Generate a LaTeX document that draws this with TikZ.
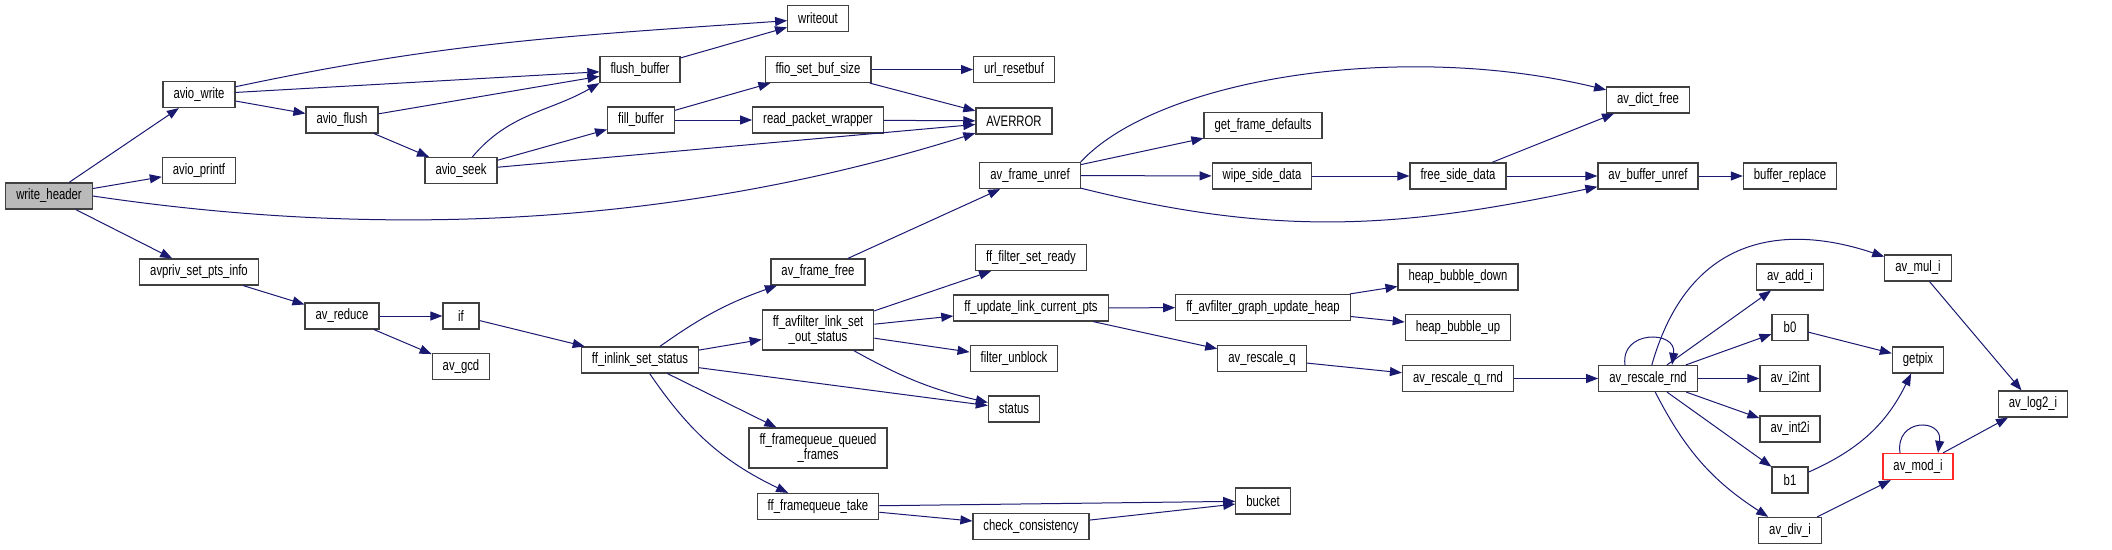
\documentclass[tikz,border=0pt]{standalone}
\usepackage{fontspec}
\setmainfont{Liberation Sans}[FakeStretch=0.75]
\usetikzlibrary{arrows.meta}
\definecolor{edgeblue}{HTML}{191970}
\definecolor{boxgray}{HTML}{404040}
\tikzset{fn/.style={draw=boxgray,line width=1.2pt,rectangle,minimum height=26pt,minimum width=36pt,inner xsep=10.5pt,inner ysep=2pt,font=\fontsize{15.1}{14.5}\selectfont,align=center},
 twoline/.style={fn,minimum height=40pt},
 root/.style={fn,fill=black!27},
 flag/.style={fn,draw=red!85},
 call/.style={draw=edgeblue,line width=1pt,-{Triangle[length=12pt,width=9pt]}}}

\begin{document}
\begin{tikzpicture}[x=1pt,y=1pt]
\useasboundingbox (0,0) rectangle (2112,-549);
\node[root](wh) at(49,-196){write\_header};
\node[fn](aw) at(199,-94.5){avio\_write};
\node[fn](ap) at(199,-170.5){avio\_printf};
\node[fn](psi) at(199,-272){avpriv\_set\_pts\_info};
\node[fn](af) at(342,-120){avio\_flush};
\node[fn](as) at(461,-170.5){avio\_seek};
\node[fn](ared) at(342,-316){av\_reduce};
\node[fn](if) at(461,-316){if};
\node[fn](agcd) at(461,-366.5){av\_gcd};
\node[fn](wo) at(818,-18.5){writeout};
\node[fn](fb) at(640,-69.5){flush\_buffer};
\node[fn](fsb) at(818,-69.5){ffio\_set\_buf\_size};
\node[fn](urb) at(1014,-69.5){url\_resetbuf};
\node[fn](fib) at(641,-120){fill\_buffer};
\node[fn](rpw) at(818,-120){read\_packet\_wrapper};
\node[fn](ave) at(1014,-121){AVERROR};
\node[fn](afu) at(1030,-175.5){av\_frame\_unref};
\node[fn](aff) at(818,-272){av\_frame\_free};
\node[fn](fsr) at(1031,-257.5){ff\_filter\_set\_ready};
\node[fn](fis) at(640,-360){ff\_inlink\_set\_status};
\node[twoline](fls) at(818,-330){ff\_avfilter\_link\_set\\\_out\_status};
\node[fn](fulc) at(1031,-308){ff\_update\_link\_current\_pts};
\node[fn](fu) at(1014,-358.5){filter\_unblock};
\node[fn](st) at(1014,-409){status};
\node[twoline](fqq) at(818,-448){ff\_framequeue\_queued\\\_frames};
\node[fn](fqt) at(818,-506.5){ff\_framequeue\_take};
\node[fn](cc) at(1031,-526.5){check\_consistency};
\node[fn](gfd) at(1263,-125.5){get\_frame\_defaults};
\node[fn](wsd) at(1262,-176){wipe\_side\_data};
\node[fn](fsd) at(1458,-176){free\_side\_data};
\node[fn](hbd) at(1458,-277){heap\_bubble\_down};
\node[fn](fgu) at(1263,-307.5){ff\_avfilter\_graph\_update\_heap};
\node[fn](hbu) at(1458,-327.5){heap\_bubble\_up};
\node[fn](arq) at(1262,-358.5){av\_rescale\_q};
\node[fn](arqr) at(1458,-378.5){av\_rescale\_q\_rnd};
\node[fn](bk) at(1263,-501){bucket};
\node[fn](adf) at(1648,-100){av\_dict\_free};
\node[fn](abu) at(1648,-176){av\_buffer\_unref};
\node[fn](br) at(1790,-176){buffer\_replace};
\node[fn](arr) at(1648,-378.5){av\_rescale\_rnd};
\node[fn](ami) at(1918,-268){av\_mul\_i};
\node[fn](aai) at(1790,-277){av\_add\_i};
\node[fn](b0) at(1790,-327.5){b0};
\node[fn](ai2) at(1790,-378.5){av\_i2int};
\node[fn](ain) at(1790,-429){av\_int2i};
\node[fn](b1) at(1790,-480){b1};
\node[fn](adi) at(1790,-530.5){av\_div\_i};
\node[fn](gp) at(1918,-360){getpix};
\node[flag](amod) at(1918,-466.5){av\_mod\_i};
\node[fn](al2) at(2033,-404){av\_log2\_i};
% calls from write_header
\draw[call](wh)--(aw);
\draw[call](wh)--(ap);
\draw[call](wh)--(psi);
\draw[call](wh.east) .. controls +(256,-38) and +(-364,-114) .. (ave);
\draw[call](aw) to[out=12,in=184](wo);
\draw[call](aw)--(fb);
\draw[call](aw)--(af);
\draw[call](af)--(fb);
\draw[call](af)--(as);
\draw[call](as) to[out=50,in=210](fb.south west);
\draw[call](as)--(fib);
\draw[call](as)--(ave);
\draw[call](fb)--(wo);
\draw[call](fib)--(fsb);
\draw[call](fib)--(rpw);
\draw[call](fsb)--(urb);
\draw[call](fsb)--(ave);
\draw[call](rpw)--(ave);
% pts info branch
\draw[call](psi)--(ared);
\draw[call](ared)--(if);
\draw[call](ared)--(agcd);
\draw[call](if)--(fis);
\draw[call](fis) to[bend left=8](aff);
\draw[call](fis)--(fls);
\draw[call](fis)--(st);
\draw[call](fis)--(fqq);
\draw[call](fis) to[bend right=15](fqt);
\draw[call](aff)--(afu);
\draw[call](afu.north east) .. controls +(77,83) and +(-248,60) .. (adf);
\draw[call](afu)--(gfd);
\draw[call](afu)--(wsd);
\draw[call](afu) to[out=-14,in=192](abu);
\draw[call](wsd)--(fsd);
\draw[call](fsd)--(adf);
\draw[call](fsd)--(abu);
\draw[call](abu)--(br);
\draw[call](fls)--(fsr);
\draw[call](fls)--(fulc);
\draw[call](fls)--(fu);
\draw[call](fls) to[bend right=8](st);
\draw[call](fulc)--(fgu);
\draw[call](fulc)--(arq);
\draw[call](fgu)--(hbd);
\draw[call](fgu)--(hbu);
\draw[call](arq)--(arqr);
\draw[call](arqr)--(arr);
% rescale
\draw[call]([xshift=-23pt]arr.north) .. controls +(-5,35) and +(5,35) .. ([xshift=24pt]arr.north);
\draw[call](arr) .. controls +(42,148.5) and +(-128,43) .. (ami);
\draw[call](arr)--(aai);
\draw[call](arr)--(b0);
\draw[call](arr)--(ai2);
\draw[call](arr)--(ain);
\draw[call](arr)--(b1);
\draw[call](arr) to[bend right=15](adi);
\draw[call](b0)--(gp);
\draw[call](b1) to[bend right=20](gp);
\draw[call](adi)--(amod);
\draw[call]([xshift=-18pt]amod.north) .. controls +(-5,35) and +(5,35) .. ([xshift=20pt]amod.north);
\draw[call](amod)--(al2);
\draw[call](ami)--(al2);
% framequeue
\draw[call](fqt)--(bk);
\draw[call](fqt)--(cc);
\draw[call](cc)--(bk);
\end{tikzpicture}
\end{document}
